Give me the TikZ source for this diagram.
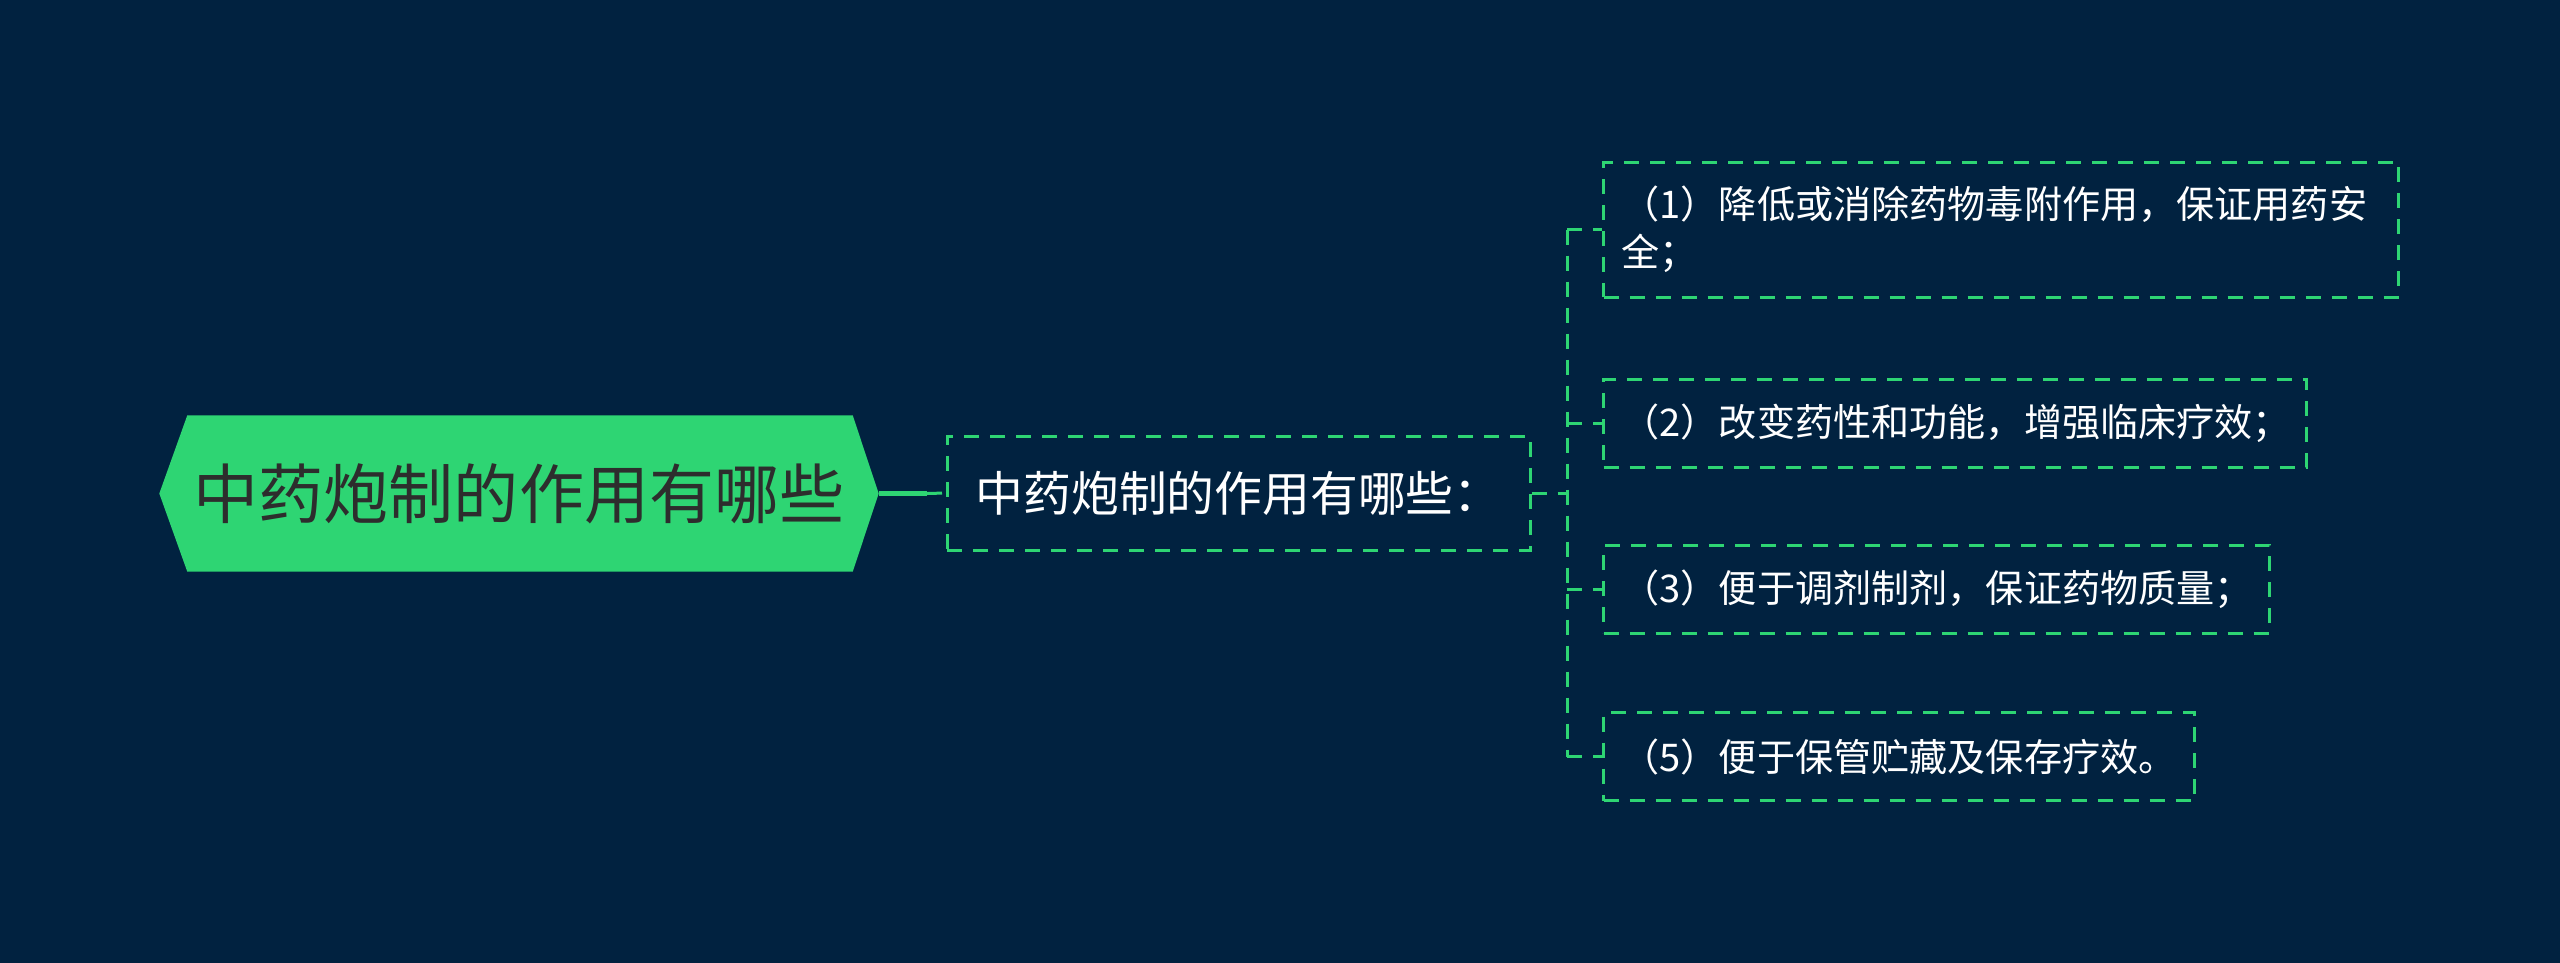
\documentclass[tikz,border=0pt]{standalone}
\usepackage{fontspec}
\newfontfamily\cjk{Noto Sans CJK SC}
\definecolor{bgc}{RGB}{1,34,64}
\definecolor{gr}{RGB}{46,213,115}
\definecolor{rt}{RGB}{45,45,45}
\pgfdeclarelayer{back}
\pgfsetlayers{back,main}
\tikzset{
  dashpat/.style={dash pattern=on 1.5mm off 1.1mm},
  dashbox/.style={draw=gr, line width=0.3mm, dashpat, inner ysep=0pt, inner xsep=1.8mm, text=white, font=\cjk\fontsize{10.85}{13.6}\selectfont},
  itembox/.style={dashbox, anchor=west, align=left},
  conn/.style={draw=gr, line width=0.3mm, dashpat},
  rootconn/.style={draw=gr, line width=0.5mm}
}
\begin{document}
\begin{tikzpicture}[x=0.1mm,y=-0.1mm]
\begin{pgfonlayer}{back}
\fill[bgc] (0,0) rectangle (2560,963);
\end{pgfonlayer}
\useasboundingbox (0,0) rectangle (2560,963);

\node[minimum width=71.8mm, minimum height=15.5mm, inner sep=0pt, text=rt,
      font=\cjk\fontsize{18.5}{22}\selectfont] (root) at (519,493.5) {中药炮制的作用有哪些};
\begin{pgfonlayer}{back}
\fill[gr] (root.west) -- ([xshift=2.8mm]root.north west) -- ([xshift=-2.6mm]root.north east)
  -- (root.east) -- ([xshift=-2.6mm]root.south east) -- ([xshift=2.8mm]root.south west) -- cycle;
\end{pgfonlayer}

\node[dashbox, minimum width=58.3mm, minimum height=11.4mm, inner xsep=0pt,
      font=\cjk\fontsize{13.6}{16}\selectfont] (sub) at (1238.5,493) {中药炮制的作用有哪些：};

\coordinate (rj) at (927,493.5);
\draw[rootconn] (root.east) -- (rj);
\draw[conn] (rj) -- (sub.west);

\node[itembox, text width=75.9mm, minimum height=13.5mm] (i1) at (1602,229.5)
  {（1）降低或消除药物毒附作用，保证用药安\\全；};
\node[itembox, text width=66.7mm, minimum height=8.8mm] (i2) at (1602,423)
  {（2）改变药性和功能，增强临床疗效；};
\node[itembox, text width=63.0mm, minimum height=8.8mm] (i3) at (1602,589)
  {（3）便于调剂制剂，保证药物质量；};
\node[itembox, text width=55.5mm, minimum height=8.8mm] (i5) at (1602,756.5)
  {（5）便于保管贮藏及保存疗效。};

\coordinate (tj) at (1567,493);
\draw[conn] (sub.east) -- (tj);
\draw[conn] (tj |- i1.west) -- (tj |- i5.west);
\foreach \n in {i1,i2,i3,i5}{
  \draw[conn] (tj |- \n.west) -- (\n.west);
}
\end{tikzpicture}
\end{document}
